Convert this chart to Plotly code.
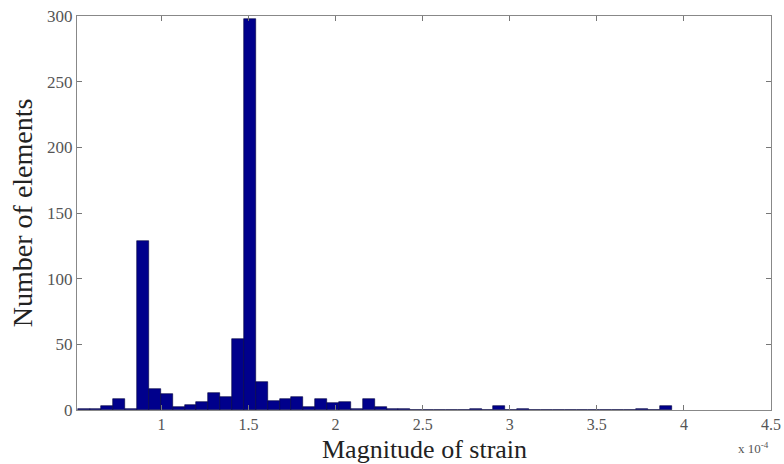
import numpy as np
import plotly.graph_objects as go

# Histogram data (50 bins), strain in units of 1e-4
bin_start = 0.519
bin_width = 0.0682
counts = [1, 1, 3, 8, 1, 129, 16, 12, 2, 4,
          6, 13, 10, 54, 298, 21, 7, 8, 10, 2,
          8, 5, 6, 1, 8, 2, 1, 1, 0, 0,
          0, 0, 0, 1, 0, 3, 0, 1, 0, 0,
          0, 0, 0, 0, 0, 0, 0, 1, 0, 3]
x_ticks = [1, 1.5, 2, 2.5, 3, 3.5, 4, 4.5]
x_ticklabels = ["1", "1.5", "2", "2.5", "3", "3.5", "4", "4.5"]
y_ticks = [0, 50, 100, 150, 200, 250, 300]

centers = bin_start + bin_width * (np.arange(len(counts)) + 0.5)

fig = go.Figure()
fig.add_trace(go.Bar(
    x=centers, y=counts, width=bin_width,
    marker=dict(color="rgb(0,0,140)", line=dict(color="rgb(0,0,60)", width=0.6)),
    showlegend=False,
))

font_family = "Liberation Serif, Times New Roman, serif"
fig.update_layout(
    width=784, height=464,
    margin=dict(l=77, r=13, t=16, b=54),
    paper_bgcolor="white", plot_bgcolor="white",
    bargap=0,
    font=dict(family=font_family, color="#444", size=17),
    xaxis=dict(
        range=[0.515, 4.5], tickvals=x_ticks, ticktext=x_ticklabels,
        ticks="inside", ticklen=5, tickcolor="#777",
        showline=True, linecolor="#888", linewidth=1, mirror="ticks",
        showgrid=False, zeroline=False, automargin=False,
        tickfont=dict(size=16, color="#555"),
    ),
    yaxis=dict(
        range=[0, 300], tickvals=y_ticks,
        ticks="inside", ticklen=5, tickcolor="#777",
        showline=True, linecolor="#888", linewidth=1, mirror="ticks",
        showgrid=False, zeroline=False, automargin=False,
        tickfont=dict(size=17, color="#555"),
    ),
    annotations=[
        dict(text="Magnitude of strain", xref="paper", yref="paper",
             x=0.5, y=-0.058, xanchor="center", yanchor="top", showarrow=False,
             font=dict(size=26, color="#222", family=font_family)),
        dict(text="Number of elements", xref="paper", yref="paper",
             x=-0.079, y=0.5, xanchor="center", yanchor="middle", showarrow=False,
             textangle=-90,
             font=dict(size=28, color="#222", family=font_family)),
        dict(text="x 10<sup>-4</sup>", xref="paper", yref="paper",
             x=1.0, y=-0.072, xanchor="right", yanchor="top", showarrow=False,
             font=dict(size=13, color="#555", family=font_family)),
    ],
)

fig.write_html("out.html")
